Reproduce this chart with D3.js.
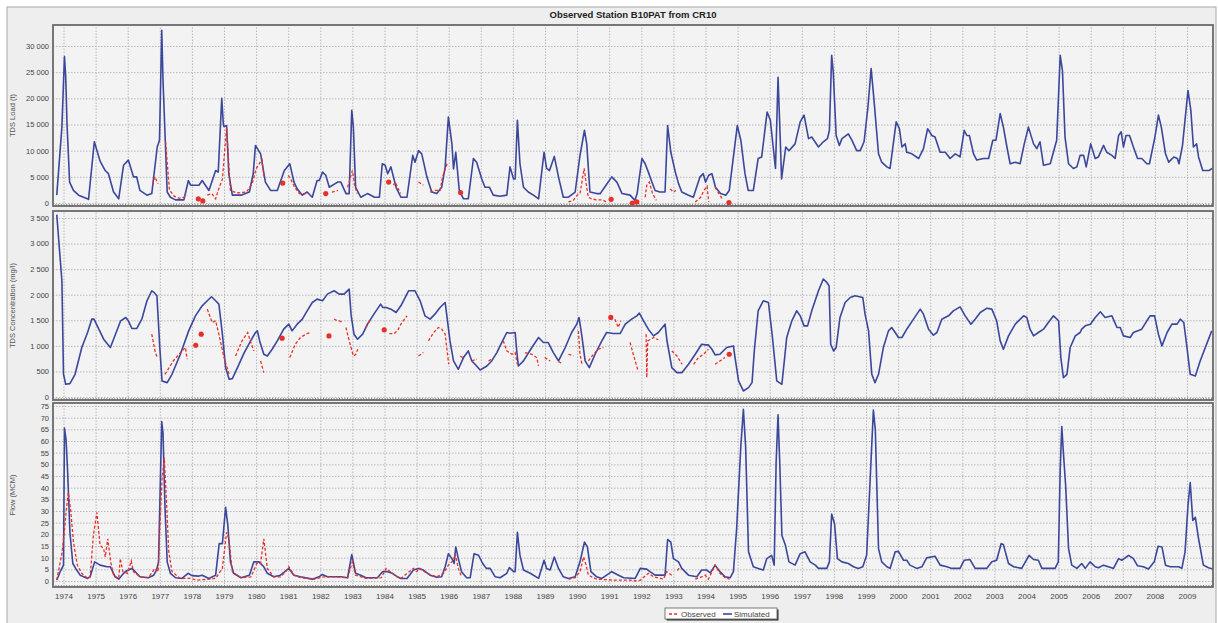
<!DOCTYPE html>
<html>
<head>
<meta charset="utf-8">
<script src="https://cdn.jsdelivr.net/npm/d3@7"></script>
<style>
  body { margin: 0; background: #fff; }
  text { font-family: "Liberation Sans", Arial, sans-serif; }
</style>
</head>
<body>
<svg width="1218" height="623"></svg>
<script>
// Values: [decimal year, value]; null breaks an observed line
const years = d3.range(1974, 2010);

const loadSim = [[1973.79,1500],[1973.95,14500],[1974.03,28000],[1974.07,24000],[1974.11,15000],[1974.19,4000],[1974.31,2400],[1974.47,1500],[1974.78,700],[1974.96,11700],[1975.14,8000],[1975.3,6200],[1975.4,5600],[1975.56,2100],[1975.72,800],[1975.87,7200],[1976.02,8200],[1976.18,5000],[1976.28,5000],[1976.38,2400],[1976.6,1500],[1976.75,1800],[1976.92,10700],[1976.99,12000],[1977.06,33000],[1977.1,23400],[1977.17,12000],[1977.23,2100],[1977.33,1100],[1977.49,600],[1977.75,600],[1977.89,4300],[1977.96,3400],[1978.22,3400],[1978.32,4300],[1978.53,2400],[1978.74,6200],[1978.82,5900],[1978.93,20000],[1978.98,15000],[1979.0,14600],[1979.08,14800],[1979.15,5500],[1979.26,1500],[1979.53,1500],[1979.79,2100],[1979.91,5600],[1979.98,11000],[1980.14,9400],[1980.29,4000],[1980.45,2400],[1980.66,2400],[1980.88,6200],[1981.05,7500],[1981.18,4000],[1981.28,2700],[1981.44,1500],[1981.59,2100],[1981.75,1100],[1981.9,4300],[1981.97,4300],[1982.07,5900],[1982.17,5300],[1982.28,3000],[1982.54,4000],[1982.64,4000],[1982.8,1800],[1982.9,1800],[1982.98,17700],[1983.03,14500],[1983.1,3000],[1983.26,1100],[1983.47,1800],[1983.69,1100],[1983.84,1100],[1983.93,7500],[1984.02,7200],[1984.1,5600],[1984.2,6900],[1984.36,3000],[1984.51,1100],[1984.7,1100],[1984.88,9100],[1984.95,7800],[1985.06,10000],[1985.16,9400],[1985.32,5000],[1985.47,2100],[1985.63,1800],[1985.78,3000],[1985.89,6900],[1985.99,16400],[1986.1,11300],[1986.15,6500],[1986.22,9700],[1986.33,2400],[1986.46,800],[1986.61,800],[1986.77,8500],[1986.87,7800],[1987.03,4600],[1987.13,3000],[1987.27,3000],[1987.39,1500],[1987.6,1300],[1987.81,1500],[1987.91,6900],[1988.02,4600],[1988.07,4600],[1988.14,15800],[1988.22,7500],[1988.33,3000],[1988.48,2100],[1988.64,1500],[1988.8,800],[1988.97,9700],[1989.05,6600],[1989.14,6200],[1989.29,8900],[1989.42,5000],[1989.57,1100],[1989.73,1100],[1989.94,2100],[1990.09,9100],[1990.23,13900],[1990.3,11300],[1990.4,2100],[1990.61,1800],[1990.72,1800],[1990.9,3400],[1991.08,5000],[1991.24,4000],[1991.4,1800],[1991.65,1500],[1991.8,500],[1991.87,1800],[1992.02,8500],[1992.12,7500],[1992.22,5900],[1992.33,4000],[1992.43,2400],[1992.58,2100],[1992.74,2100],[1992.82,14800],[1992.92,9700],[1993.06,5900],[1993.16,3700],[1993.26,2100],[1993.47,1500],[1993.62,1100],[1993.83,5000],[1993.93,5600],[1994.0,4000],[1994.1,5300],[1994.2,5600],[1994.31,3000],[1994.47,1800],[1994.63,1500],[1994.74,2400],[1994.99,14800],[1995.1,12000],[1995.23,5600],[1995.33,2400],[1995.49,2400],[1995.64,8500],[1995.75,8800],[1995.92,17400],[1996.02,15800],[1996.18,6600],[1996.26,24000],[1996.33,12000],[1996.37,4600],[1996.5,10700],[1996.6,10000],[1996.79,11300],[1996.95,15500],[1997.07,16800],[1997.21,12300],[1997.31,12600],[1997.52,10700],[1997.67,11700],[1997.8,12300],[1997.86,13900],[1997.93,28200],[1997.98,25000],[1998.07,12900],[1998.17,11000],[1998.25,12300],[1998.45,13200],[1998.56,12000],[1998.71,10000],[1998.82,10000],[1998.94,11700],[1999.06,18300],[1999.16,25700],[1999.25,19600],[1999.39,9400],[1999.49,7800],[1999.65,6900],[1999.75,6600],[1999.94,15500],[2000.04,14200],[2000.12,10700],[2000.22,11300],[2000.27,9700],[2000.43,9400],[2000.64,8500],[2000.79,10400],[2000.92,14200],[2001.05,12900],[2001.15,12600],[2001.31,9700],[2001.47,9700],[2001.62,8500],[2001.78,9400],[2001.93,8800],[2002.06,13900],[2002.14,12900],[2002.22,12900],[2002.35,9400],[2002.45,8200],[2002.66,8500],[2002.82,8500],[2002.95,12000],[2003.05,12000],[2003.18,17100],[2003.28,14500],[2003.39,10700],[2003.49,7500],[2003.65,7800],[2003.8,7500],[2003.93,11300],[2004.06,14500],[2004.22,11300],[2004.32,10400],[2004.42,11700],[2004.53,7200],[2004.74,7500],[2004.94,12000],[2005.05,28200],[2005.12,25300],[2005.2,12600],[2005.31,7500],[2005.46,6600],[2005.57,6900],[2005.67,9100],[2005.78,9100],[2005.86,6900],[2006.0,11300],[2006.14,8500],[2006.24,8800],[2006.4,11000],[2006.5,9700],[2006.66,9100],[2006.76,8500],[2006.87,12900],[2006.95,13600],[2007.02,10700],[2007.1,12900],[2007.21,12900],[2007.33,10700],[2007.46,8500],[2007.59,8500],[2007.75,7500],[2007.83,7500],[2008.0,12600],[2008.11,16800],[2008.2,14500],[2008.33,9400],[2008.43,7800],[2008.59,8800],[2008.7,8500],[2008.75,7500],[2008.86,11000],[2009.03,21500],[2009.12,17700],[2009.2,10700],[2009.3,11300],[2009.36,8800],[2009.49,6200],[2009.68,6200],[2009.78,6600]];

const loadObs = [[1976.78,3500],[1976.84,5000],[1976.95,3700],null,
  [1977.18,11700],[1977.3,2500],[1977.45,1300],[1977.6,900],[1977.75,1100],[1977.85,1500],null,
  [1978.2,800],null,[1978.34,400],null,
  [1978.48,1500],[1978.62,1800],[1978.74,800],[1978.85,3000],[1978.95,4500],[1979.08,14500],[1979.2,2400],[1979.4,1900],[1979.7,2100],[1979.88,3700],[1980.0,6500],[1980.18,8300],[1980.25,5000],null,
  [1980.83,3800],null,
  [1981.0,5300],[1981.08,4600],[1981.2,3000],[1981.35,1800],[1981.55,1800],null,
  [1982.17,1800],null,
  [1982.36,2100],[1982.55,2400],null,
  [1982.85,3000],[1983.0,6200],[1983.07,3400],[1983.15,1800],null,
  [1984.13,4000],null,
  [1984.28,3400],[1984.33,4000],[1984.5,1800],null,
  [1985.06,4000],[1985.21,3400],null,
  [1985.42,2100],[1985.58,2400],[1985.73,2400],[1985.81,5000],[1985.95,7500],null,
  [1986.37,2000],null,
  [1989.73,200],[1989.88,500],[1990.0,1500],[1990.09,1800],[1990.22,6600],[1990.3,3000],[1990.35,1100],[1990.45,800],[1990.6,600],[1990.8,600],[1990.9,200],null,
  [1991.06,700],null,
  [1991.72,0],null,[1991.86,200],null,
  [1992.12,1100],[1992.17,3400],[1992.25,4000],[1992.35,1800],[1992.47,500],null,
  [1992.9,2700],[1993.0,2100],[1993.08,2400],null,
  [1993.68,200],[1993.85,1100],[1993.95,2400],[1994.05,3200],[1994.1,200],null,
  [1994.3,3000],[1994.42,1800],[1994.52,800],null,
  [1994.73,100]];

const concSim = [[1973.79,3566],[1973.95,2273],[1974.0,444],[1974.07,248],[1974.2,261],[1974.36,444],[1974.57,967],[1974.75,1260],[1974.88,1522],[1974.95,1522],[1975.1,1326],[1975.25,1130],[1975.46,967],[1975.62,1228],[1975.78,1490],[1975.94,1555],[1976.02,1490],[1976.13,1339],[1976.28,1339],[1976.44,1522],[1976.6,1881],[1976.75,2077],[1976.82,2044],[1976.91,1979],[1977.0,967],[1977.07,314],[1977.23,281],[1977.38,444],[1977.64,836],[1977.9,1293],[1978.11,1587],[1978.32,1783],[1978.48,1881],[1978.61,1960],[1978.74,1881],[1978.84,1816],[1978.95,1228],[1979.05,575],[1979.16,346],[1979.26,359],[1979.42,575],[1979.63,869],[1979.83,1097],[1979.98,1261],[1980.04,1293],[1980.11,1097],[1980.24,836],[1980.35,803],[1980.5,934],[1980.66,1097],[1980.86,1326],[1981.02,1424],[1981.12,1293],[1981.28,1424],[1981.44,1522],[1981.59,1685],[1981.75,1848],[1981.9,1914],[1982.07,1881],[1982.22,2012],[1982.43,2077],[1982.59,2012],[1982.74,2012],[1982.9,2110],[1982.96,1600],[1983.05,1228],[1983.16,1130],[1983.32,1228],[1983.47,1424],[1983.67,1620],[1983.88,1816],[1983.95,1750],[1984.05,1750],[1984.2,1718],[1984.36,1653],[1984.51,1783],[1984.75,2077],[1984.95,2077],[1985.11,1881],[1985.26,1587],[1985.42,1522],[1985.57,1620],[1985.73,1750],[1985.89,1848],[1985.94,1600],[1986.04,1097],[1986.15,705],[1986.3,542],[1986.46,771],[1986.61,901],[1986.72,705],[1986.82,640],[1986.98,529],[1987.19,607],[1987.34,705],[1987.5,869],[1987.65,1065],[1987.81,1261],[1987.91,1247],[1988.07,1261],[1988.12,900],[1988.17,607],[1988.33,705],[1988.59,967],[1988.8,1163],[1988.95,1065],[1989.1,1065],[1989.26,869],[1989.42,705],[1989.63,967],[1989.83,1261],[1989.99,1424],[1990.06,1555],[1990.14,1228],[1990.25,705],[1990.38,575],[1990.56,836],[1990.77,1097],[1990.92,1261],[1991.13,1241],[1991.34,1241],[1991.5,1424],[1991.7,1522],[1991.86,1587],[1991.94,1640],[1992.07,1490],[1992.22,1326],[1992.38,1195],[1992.53,1261],[1992.74,1424],[1992.8,1100],[1992.95,575],[1993.11,477],[1993.27,477],[1993.47,640],[1993.68,836],[1993.88,1032],[1993.99,1019],[1994.09,1019],[1994.2,934],[1994.3,823],[1994.45,836],[1994.66,967],[1994.87,999],[1994.92,771],[1995.03,314],[1995.18,118],[1995.34,183],[1995.45,281],[1995.52,900],[1995.64,1685],[1995.8,1881],[1995.96,1848],[1996.08,1200],[1996.22,314],[1996.38,248],[1996.53,1163],[1996.69,1490],[1996.84,1685],[1996.95,1587],[1997.07,1391],[1997.18,1391],[1997.31,1685],[1997.52,2077],[1997.67,2306],[1997.78,2240],[1997.85,2175],[1997.9,1032],[1997.99,901],[1998.07,967],[1998.19,1555],[1998.35,1848],[1998.51,1946],[1998.66,1979],[1998.9,1946],[1998.97,1620],[1999.08,1293],[1999.18,444],[1999.28,281],[1999.39,444],[1999.54,967],[1999.7,1293],[1999.8,1359],[1999.91,1261],[2000.01,1163],[2000.12,1163],[2000.27,1326],[2000.48,1522],[2000.69,1718],[2000.79,1620],[2000.95,1326],[2001.1,1208],[2001.21,1261],[2001.36,1522],[2001.57,1587],[2001.72,1685],[2001.93,1763],[2002.09,1587],[2002.27,1424],[2002.4,1522],[2002.56,1653],[2002.77,1737],[2002.92,1718],[2003.07,1490],[2003.18,1097],[2003.28,934],[2003.44,1195],[2003.65,1424],[2003.91,1587],[2004.01,1555],[2004.11,1326],[2004.22,1195],[2004.37,1261],[2004.53,1326],[2004.68,1457],[2004.84,1587],[2005.0,1490],[2005.07,771],[2005.15,379],[2005.26,444],[2005.36,967],[2005.52,1195],[2005.67,1261],[2005.72,1326],[2005.83,1391],[2005.99,1424],[2006.14,1555],[2006.3,1666],[2006.45,1555],[2006.66,1587],[2006.82,1359],[2006.92,1359],[2007.02,1195],[2007.23,1163],[2007.33,1261],[2007.59,1326],[2007.75,1490],[2007.85,1587],[2007.99,1587],[2008.11,1228],[2008.22,999],[2008.38,1261],[2008.53,1424],[2008.69,1424],[2008.79,1522],[2008.9,1457],[2009.0,967],[2009.1,444],[2009.26,411],[2009.41,705],[2009.77,1293]];

const concObs = [[1976.75,1228],[1976.86,869],[1976.92,780],null,
  [1977.16,444],[1977.42,705],[1977.69,901],[1977.8,967],[1977.85,738],null,
  [1978.12,1012],null,[1978.29,1228],null,
  [1978.48,1718],[1978.63,1457],[1978.74,1490],[1978.84,1228],[1979.0,771],[1979.16,444],null,
  [1979.36,803],[1979.56,1097],[1979.74,1261],[1979.82,1097],[1979.93,901],null,
  [1980.14,705],[1980.24,477],null,
  [1980.81,1150],null,
  [1981.05,771],[1981.22,1032],[1981.38,1163],[1981.59,1241],[1981.69,1260],null,
  [1982.27,1195],null,
  [1982.43,1522],[1982.53,1490],[1982.59,1490],[1982.69,1460],null,
  [1982.8,1359],[1982.9,1097],[1983.03,803],[1983.1,830],[1983.17,934],null,
  [1983.42,1359],[1983.57,1522],null,
  [1983.99,1313],null,
  [1984.15,1241],[1984.3,1241],[1984.41,1300],[1984.51,1424],[1984.7,1587],null,
  [1985.06,803],[1985.21,869],null,
  [1985.37,1097],[1985.53,1261],[1985.68,1359],[1985.78,1330],[1985.89,1228],[1986.0,640],null,
  [1986.36,803],[1986.46,760],null,
  [1986.72,705],[1986.88,740],null,
  [1987.24,705],[1987.4,760],null,
  [1987.7,1097],[1987.81,901],[1987.97,836],[1988.07,869],[1988.14,640],null,
  [1988.38,869],[1988.59,836],[1988.74,771],[1988.8,607],null,
  [1988.99,771],[1989.16,705],null,
  [1989.42,690],[1989.52,660],null,
  [1989.73,836],[1989.89,803],null,
  [1990.04,1293],[1990.09,836],[1990.15,640],null,
  [1990.35,705],[1990.51,836],[1990.66,934],[1990.82,967],null,
  [1991.05,1555],null,
  [1991.18,1522],[1991.28,1359],[1991.36,1490],null,
  [1991.65,1065],[1991.75,836],[1991.9,509],null,
  [1992.15,1228],[1992.17,379],[1992.2,1097],[1992.38,1163],[1992.53,1120],null,
  [1992.95,901],[1993.11,803],[1993.27,640],null,
  [1993.63,640],[1993.78,771],[1993.94,836],[1994.09,934],null,
  [1994.3,640],[1994.45,705],[1994.61,771],null,
  [1994.74,836]];

const flowSim = [[1973.79,0.4],[1973.92,4.7],[1974.0,6.8],[1974.03,65.5],[1974.08,60.6],[1974.13,46.4],[1974.2,20.9],[1974.29,7.5],[1974.41,4.7],[1974.52,2.5],[1974.75,1.1],[1974.83,1.8],[1974.97,8.2],[1975.14,6.8],[1975.35,6.1],[1975.46,6.1],[1975.61,1.8],[1975.72,0.8],[1975.82,2.5],[1975.92,4.0],[1976.02,4.7],[1976.13,5.4],[1976.28,3.3],[1976.38,1.8],[1976.64,1.4],[1976.81,2.5],[1976.9,4.7],[1976.96,8.2],[1977.06,68.3],[1977.1,63.4],[1977.16,32.3],[1977.23,8.2],[1977.33,3.3],[1977.49,1.4],[1977.69,1.1],[1977.88,3.3],[1978.0,2.3],[1978.22,2.1],[1978.32,2.5],[1978.53,1.1],[1978.74,2.5],[1978.85,16],[1978.95,16],[1979.05,31.6],[1979.12,23.8],[1979.2,8.2],[1979.3,3.3],[1979.53,1.4],[1979.79,2.5],[1979.93,8.2],[1980.09,8.2],[1980.24,6.1],[1980.35,3.3],[1980.55,1.8],[1980.76,2.5],[1981.02,5.4],[1981.18,2.5],[1981.38,1.8],[1981.75,0.8],[1981.96,1.8],[1982.06,2.8],[1982.22,1.8],[1982.64,1.8],[1982.85,1.4],[1982.98,11.3],[1983.1,3.3],[1983.26,2.5],[1983.42,1.4],[1983.78,1.4],[1983.94,4.0],[1984.1,4.0],[1984.25,3.3],[1984.4,1.8],[1984.51,1.1],[1984.7,1.1],[1984.9,4.7],[1985.06,5.4],[1985.21,4.7],[1985.42,2.5],[1985.63,1.6],[1985.78,1.8],[1985.89,6.1],[1985.99,11.7],[1986.1,9.6],[1986.17,7.5],[1986.22,14.6],[1986.3,9.6],[1986.4,4.0],[1986.56,1.4],[1986.67,1.4],[1986.79,11.7],[1986.93,11.0],[1987.06,7.5],[1987.17,5.4],[1987.29,5.4],[1987.45,1.8],[1987.6,1.4],[1987.81,3.3],[1987.89,5.8],[1988.02,4.0],[1988.07,4.0],[1988.14,20.9],[1988.22,11.0],[1988.33,4.7],[1988.54,3.3],[1988.8,1.1],[1988.97,8.9],[1989.05,5.4],[1989.16,4.7],[1989.29,10.3],[1989.42,5.4],[1989.57,1.8],[1989.73,1.1],[1989.94,1.8],[1990.09,8.2],[1990.23,16.7],[1990.32,14.6],[1990.43,4.0],[1990.61,1.8],[1990.77,1.1],[1990.92,2.5],[1991.08,4.0],[1991.29,2.5],[1991.45,1.4],[1991.81,1.1],[1991.97,5.4],[1992.17,5.1],[1992.27,4.0],[1992.43,2.5],[1992.74,2.5],[1992.82,17.8],[1992.92,16.7],[1993.0,9.6],[1993.16,8.2],[1993.26,5.4],[1993.47,2.5],[1993.73,1.8],[1993.88,4.7],[1994.04,4.7],[1994.15,3.5],[1994.3,6.8],[1994.45,4.0],[1994.61,1.8],[1994.77,1.4],[1994.87,4.0],[1994.97,22.4],[1995.1,57.7],[1995.18,73.6],[1995.25,57.7],[1995.34,12.5],[1995.49,6.1],[1995.64,5.4],[1995.8,4.7],[1995.91,9.6],[1996.06,11.0],[1996.14,6.8],[1996.2,50.7],[1996.26,71.2],[1996.32,47.8],[1996.38,19.5],[1996.49,15.3],[1996.6,8.2],[1996.79,6.8],[1996.95,11.7],[1997.1,12.5],[1997.26,8.2],[1997.42,6.8],[1997.52,5.4],[1997.78,5.4],[1997.86,8.2],[1997.93,28.7],[1998.02,24.5],[1998.11,9.6],[1998.25,8.2],[1998.45,7.5],[1998.61,6.1],[1998.76,5.4],[1998.9,6.1],[1999.02,11.0],[1999.13,43.6],[1999.23,73.3],[1999.29,64.8],[1999.39,13.9],[1999.49,8.2],[1999.65,6.1],[1999.75,5.4],[1999.91,12.5],[2000.01,12.7],[2000.17,8.9],[2000.27,8.9],[2000.37,6.8],[2000.58,5.4],[2000.74,6.1],[2000.89,9.9],[2001.15,10.6],[2001.31,6.8],[2001.52,6.1],[2001.67,5.4],[2001.93,5.4],[2002.06,8.9],[2002.24,9.2],[2002.4,5.4],[2002.76,5.4],[2002.92,8.2],[2003.07,8.9],[2003.21,16.0],[2003.28,15.6],[2003.44,7.5],[2003.6,6.1],[2003.85,5.4],[2004.08,11.0],[2004.22,9.2],[2004.37,8.9],[2004.48,5.4],[2004.89,5.4],[2004.99,8.2],[2005.05,47.8],[2005.1,66.2],[2005.15,54.9],[2005.22,40.8],[2005.31,13.9],[2005.41,6.8],[2005.57,5.4],[2005.72,7.5],[2005.83,5.4],[2005.98,8.2],[2006.14,6.1],[2006.24,5.7],[2006.4,6.8],[2006.55,6.1],[2006.71,5.4],[2006.87,9.6],[2006.97,8.9],[2007.18,11.0],[2007.33,9.6],[2007.46,6.5],[2007.64,6.1],[2007.8,5.1],[2007.98,8.2],[2008.1,14.9],[2008.22,14.6],[2008.33,6.8],[2008.48,6.1],[2008.74,6.1],[2008.84,5.4],[2008.94,12.5],[2009.03,32.3],[2009.1,42.2],[2009.18,25.9],[2009.26,27.3],[2009.36,18.1],[2009.51,6.8],[2009.67,5.7],[2009.82,5.1]];

const flowObs = [[1973.79,0.4],[1973.95,11.7],[1974.03,21.6],[1974.09,30.8],[1974.15,37.9],[1974.22,30.8],[1974.31,16.7],[1974.43,6.8],[1974.57,3.3],[1974.75,1.1],[1974.83,1.8],[1974.93,19.5],[1975.04,29.4],[1975.14,15.3],[1975.25,13.9],[1975.3,10.3],[1975.38,18.1],[1975.47,8.2],[1975.56,2.5],[1975.72,1.1],[1975.77,9.6],[1975.85,4.0],[1975.99,3.3],[1976.11,8.6],[1976.18,4.0],[1976.38,1.8],[1976.64,1.4],[1976.85,5.4],[1976.95,4.0],[1977.0,22.4],[1977.07,43.6],[1977.14,52.8],[1977.2,36.5],[1977.28,12.5],[1977.38,4.0],[1977.64,1.1],[1977.95,1.1],[1978.16,0.4],[1978.48,0.7],[1978.74,1.1],[1978.95,5.4],[1979.08,20.9],[1979.15,18.1],[1979.26,4.0],[1979.53,1.4],[1979.84,1.8],[1980.02,7.5],[1980.14,7.5],[1980.24,18.1],[1980.35,5.4],[1980.55,1.8],[1980.76,1.8],[1980.92,4.0],[1981.02,6.1],[1981.18,2.5],[1981.38,1.4],[1981.81,0.8],[1982.12,1.8],[1982.43,1.8],[1982.85,1.4],[1983.0,8.2],[1983.1,2.5],[1983.42,1.1],[1983.9,1.4],[1984.05,5.4],[1984.2,3.7],[1984.4,1.8],[1984.51,1.1],[1984.9,5.4],[1985.0,4.0],[1985.1,5.4],[1985.31,3.3],[1985.63,1.8],[1985.84,3.3],[1985.99,6.8],[1986.15,8.9],[1986.2,11.7],[1986.3,5.4],[1986.4,1.8],null,
  [1989.73,0.8],[1989.94,1.4],[1990.09,4.0],[1990.2,10.3],[1990.28,6.8],[1990.35,2.5],[1990.61,0.8],[1991.13,0.4],[1991.65,0.4],[1991.76,0],[1991.97,0.4],[1992.22,3.3],[1992.38,1.8],[1992.69,0.8],[1992.79,4.0],[1992.95,2.5],null,
  [1993.12,4.5],[1993.2,5.8],null,
  [1993.68,0.8],[1993.88,1.8],[1993.99,2.5],[1994.09,0.8],[1994.3,6.8],[1994.45,3.3],[1994.61,1.4],[1994.75,0.8]];

const loadTicks = d3.range(0, 30001, 5000);
const concTicks = d3.range(0, 3501, 500);
const flowTicks = d3.range(0, 76, 5);

const svg = d3.select("svg");
const plotL = 53, plotR = 1213;
const simColor = "#3b479b", obsColor = "#e8302a";

// x: decimal years, 1974 sits on x=63.5
const x = d3.scaleLinear().domain([1974, 2009]).range([63.5, 1187]);

const fmt = d3.formatLocale({ decimal: ".", thousands: " ", grouping: [3], currency: ["", ""] }).format(",d");

const panels = [
  { top: 25, bottom: 206, zeroY: 203, maxY: 46, maxV: 30000, ticks: loadTicks, label: "TDS Load (t)", sim: loadSim, obs: loadObs },
  { top: 211, bottom: 400, zeroY: 397, maxY: 218, maxV: 3500, ticks: concTicks, label: "TDS Concentration (mg/l)", sim: concSim, obs: concObs },
  { top: 403, bottom: 587, zeroY: 581, maxY: 406, maxV: 75, ticks: flowTicks, label: "Flow (MCM)", sim: flowSim, obs: flowObs }
];

// outer frame
svg.append("rect").attr("x", 7).attr("y", 7).attr("width", 1209).attr("height", 640)
  .attr("fill", "#eeeeee").attr("stroke", "#a8a8a8");

svg.append("text").attr("x", (plotL + plotR) / 2).attr("y", 17.5)
  .attr("text-anchor", "middle").attr("font-size", 9.5).attr("font-weight", "bold")
  .attr("fill", "#222").text("Observed Station B10PAT from CR10");

const months = d3.range(1973.75, 2009.8, 1 / 12);

panels.forEach((p, i) => {
  const y = d3.scaleLinear().domain([0, p.maxV]).range([p.zeroY, p.maxY]);
  const h = p.bottom - p.top, w = plotR - plotL;
  const g = svg.append("g");

  g.append("rect").attr("x", plotL).attr("y", p.top).attr("width", w).attr("height", h).attr("fill", "#f3f3f3");

  const clipId = "clip" + i;
  svg.append("clipPath").attr("id", clipId).append("rect")
    .attr("x", plotL).attr("y", p.top).attr("width", w).attr("height", h);

  // grid
  const grid = g.append("g").attr("clip-path", `url(#${clipId})`);
  grid.append("g").attr("transform", `translate(0,${p.bottom})`)
    .call(d3.axisBottom(x).tickValues(years).tickSize(-h).tickFormat(""))
    .call(a => a.select(".domain").remove())
    .selectAll("line").attr("stroke", "#b9b9b9").attr("stroke-dasharray", "1.5,1.5");
  grid.append("g").attr("transform", `translate(${plotL},0)`)
    .call(d3.axisLeft(y).tickValues(p.ticks).tickSize(-w).tickFormat(""))
    .call(a => a.select(".domain").remove())
    .selectAll("line").attr("stroke", "#b9b9b9").attr("stroke-dasharray", "1.5,1.5");

  // minor month ticks along bottom edge
  g.append("g").attr("transform", `translate(0,${p.bottom})`)
    .call(d3.axisTop(x).tickValues(months).tickSize(2).tickFormat(""))
    .call(a => a.select(".domain").remove())
    .selectAll("line").attr("stroke", "#888");

  // y tick labels
  g.append("g").attr("transform", `translate(${plotL},0)`)
    .call(d3.axisLeft(y).tickValues(p.ticks).tickSize(0).tickPadding(4).tickFormat(fmt))
    .call(a => a.select(".domain").remove())
    .selectAll("text").attr("font-size", 7.5).attr("fill", "#444")
    .attr("font-family", "Liberation Sans, Arial, sans-serif");

  g.append("text")
    .attr("transform", `translate(15,${(p.top + p.bottom) / 2}) rotate(-90)`)
    .attr("text-anchor", "middle").attr("font-size", 7.5).attr("fill", "#555").text(p.label);

  const line = d3.line().defined(d => d).x(d => x(d[0])).y(d => y(d[1]));
  const lines = g.append("g").attr("clip-path", `url(#${clipId})`);
  lines.append("path").datum(p.sim).attr("d", line)
    .attr("fill", "none").attr("stroke", simColor).attr("stroke-width", 1.6).attr("stroke-linejoin", "round");
  lines.append("path").datum(p.obs).attr("d", line)
    .attr("fill", "none").attr("stroke", obsColor).attr("stroke-width", 1.3).attr("stroke-dasharray", "3,2");

  // isolated observations shown as dots
  const lone = p.obs.filter((d, k) => d && !p.obs[k - 1] && !p.obs[k + 1]);
  lines.selectAll("circle").data(lone).enter().append("circle")
    .attr("cx", d => x(d[0])).attr("cy", d => y(d[1])).attr("r", 2.6).attr("fill", obsColor);

  g.append("rect").attr("x", plotL).attr("y", p.top).attr("width", w).attr("height", h)
    .attr("fill", "none").attr("stroke", "#6a6a6a").attr("stroke-width", 1.8);

  if (i === panels.length - 1) {
    g.append("g").attr("transform", `translate(0,${p.bottom})`)
      .call(d3.axisBottom(x).tickValues(years).tickSize(0).tickPadding(6).tickFormat(d3.format("d")))
      .call(a => a.select(".domain").remove())
      .selectAll("text").attr("font-size", 8).attr("fill", "#444")
      .attr("font-family", "Liberation Sans, Arial, sans-serif");
  }
});

// legend
const lg = svg.append("g").attr("transform", "translate(665,608)");
lg.append("rect").attr("x", 1.5).attr("y", 1.5).attr("width", 112).attr("height", 11).attr("fill", "#222");
lg.append("rect").attr("width", 112).attr("height", 11).attr("fill", "#fff").attr("stroke", "#777");
lg.append("line").attr("x1", 4).attr("x2", 14).attr("y1", 6).attr("y2", 6)
  .attr("stroke", obsColor).attr("stroke-width", 1.3).attr("stroke-dasharray", "3,2");
lg.append("text").attr("x", 16).attr("y", 9).attr("font-size", 8).attr("fill", "#444").text("Observed");
lg.append("line").attr("x1", 58).attr("x2", 67).attr("y1", 6).attr("y2", 6)
  .attr("stroke", simColor).attr("stroke-width", 1.6);
lg.append("text").attr("x", 69).attr("y", 9).attr("font-size", 8).attr("fill", "#444").text("Simulated");
</script>
</body>
</html>
